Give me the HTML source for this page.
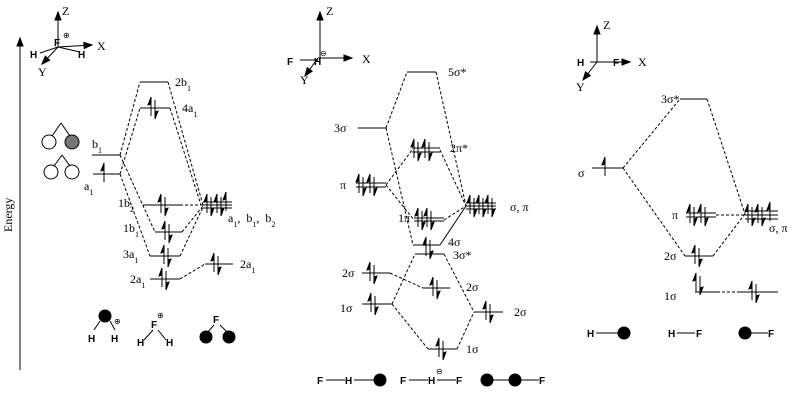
<!DOCTYPE html>
<html><head><meta charset="utf-8"><style>
body{margin:0;background:#fff}
svg{display:block;font-family:"Liberation Serif",serif}
.s{font-family:"Liberation Sans",sans-serif;font-weight:bold;font-size:10px}
</style></head><body>
<svg id="g" width="800" height="400" viewBox="0 0 800 400" xmlns="http://www.w3.org/2000/svg">
<g id="lines" stroke="#000" fill="none" stroke-width="1"></g>
<g id="txt" font-size="12" fill="#000"></g>
</svg>
<script>
const NS="http://www.w3.org/2000/svg";
const L=document.getElementById('lines'),T=document.getElementById('txt');
function el(p,tag,a){const e=document.createElementNS(NS,tag);for(const k in a)e.setAttribute(k,a[k]);p.appendChild(e);return e;}
function ln(x1,y1,x2,y2,w){el(L,'line',{x1,y1,x2,y2,'stroke-width':w||1});}
function dl(x1,y1,x2,y2){el(L,'line',{x1,y1,x2,y2,'stroke-dasharray':'3,2'});}
function lv(x1,x2,y){ln(x1,y,x2,y);}
function up(x,y){ln(x,y-10,x,y+8);el(L,'path',{d:`M${x} ${y-11}L${x-3} ${y-3}L${x} ${y-4}Z`,fill:'#000'});}
function dn(x,y){ln(x,y-8,x,y+10);el(L,'path',{d:`M${x} ${y+11}L${x+3} ${y+3}L${x} ${y+4}Z`,fill:'#000'});}
function pr(x,y){up(x,y);dn(x+4,y);}
function tx(x,y,s,c,fs){const e=el(T,'text',{x,y});if(c)e.setAttribute('class',c);if(fs)e.setAttribute('font-size',fs);e.innerHTML=s;return e;}
function arr(x1,y1,x2,y2){ln(x1,y1,x2,y2);const a=Math.atan2(y2-y1,x2-x1),l=8,w=3;
 const p1=[x2-l*Math.cos(a)+w*Math.sin(a),y2-l*Math.sin(a)-w*Math.cos(a)],p2=[x2-l*Math.cos(a)-w*Math.sin(a),y2-l*Math.sin(a)+w*Math.cos(a)];
 el(L,'path',{d:`M${x2} ${y2}L${p1}L${p2}Z`,fill:'#000'});}
function dot(x,y,r){el(L,'circle',{cx:x,cy:y,r:r||6,fill:'#000'});}
const sub=s=>`<tspan baseline-shift="sub" font-size="8">${s}</tspan>`;

// ===== Energy axis
arr(20,370,20,38);
const e=tx(12,232,'Energy');e.setAttribute('transform','rotate(-90 12 232)');

// ===== Left panel
arr(58,47,58,12);arr(58,47,92,45);arr(58,47,42,64);ln(40,53,58,47);ln(58,47,80,52);
tx(62,15,'Z');tx(97,50,'X');tx(38,76,'Y');tx(30,58,'H','s');tx(78,58,'H','s');tx(54,46,'F','s');tx(63,38,'⊕',null,8);
// orbital pictures
el(L,'circle',{cx:49,cy:142,r:7});el(L,'circle',{cx:72,cy:142,r:7,fill:'#777'});ln(52,136,61,123);ln(61,123,70,136);
el(L,'circle',{cx:51,cy:172,r:7});el(L,'circle',{cx:72,cy:172,r:7});ln(54,166,62,155);ln(62,155,70,166);
lv(92,120,155);tx(92,148,'b'+sub('1'));
lv(93,120,174);up(104,174);tx(84,190,'a'+sub('1'));
lv(140,168,82);tx(175,86,'2b'+sub('1'));
lv(140,170,108);pr(151,108);tx(182,112,'4a'+sub('1'));
lv(143,180,205);pr(161,205);tx(118,207,'1b'+sub('2'));
lv(155,182,232);pr(165,232);tx(123,232,'1b'+sub('1'));
lv(150,180,256);pr(164,256);tx(123,258,'3a'+sub('1'));
lv(150,180,279);pr(162,279);tx(130,283,'2a'+sub('1'));
lv(203,232,202);lv(203,232,205);lv(203,232,208);pr(207,205);pr(217,205);up(226,203);
tx(228,222,'a'+sub('1')+',&#160; b'+sub('1')+',&#160; b'+sub('2'));
lv(205,233,264);pr(214,264);tx(240,268,'2a'+sub('1'));
dl(120,155,140,82);dl(168,82,203,205);dl(120,174,140,108);dl(170,108,201,205);
dl(120,155,155,232);dl(120,174,150,256);
dl(180,205,203,205);dl(182,232,203,206);dl(180,256,203,207);dl(180,279,205,264);
// bottom molecules
dot(105,316,6);ln(100,321,94,330);ln(110,321,115,330);tx(88,342,'H','s');tx(111,342,'H','s');tx(114,324,'⊕',null,8);
tx(151,328,'F','s');tx(157,318,'⊕',null,8);ln(153,330,144,340);ln(158,330,166,340);tx(137,346,'H','s');tx(166,346,'H','s');
tx(213,323,'F','s');ln(214,325,206,334);ln(220,325,229,334);dot(206,337,6);dot(229,337,6);

// ===== Middle panel
arr(320,58,320,12);arr(318,58,352,58);arr(318,58,305,76);ln(300,60,318,60);
tx(326,15,'Z');tx(362,63,'X');tx(300,84,'Y');tx(287,65,'F','s');tx(314,65,'H','s');tx(320,56,'⊖',null,8);
lv(407,436,72);tx(448,76,'5σ*');
lv(358,386,128);tx(334,132,'3σ');
lv(412,440,148);lv(412,440,152);pr(414,150);pr(425,150);tx(450,152,'2π*');
lv(356,386,183);lv(356,386,187);pr(359,185);pr(370,185);tx(340,189,'π');
lv(466,496,203);lv(466,496,206);lv(466,496,209);pr(470,206);pr(479,206);pr(488,206);tx(510,211,'σ, π');
lv(414,444,218);lv(414,444,221);pr(418,219);pr(427,219);tx(398,222,'1π');
lv(413,440,245);lv(415,444,254);pr(426,248);tx(448,246,'4σ');tx(453,259,'3σ*');
lv(362,390,273);pr(370,273);tx(342,277,'2σ');
lv(423,450,288);pr(433,288);tx(466,291,'2σ');
lv(362,392,304);pr(371,304);tx(340,312,'1σ');
lv(474,503,312);pr(486,312);tx(514,316,'2σ');
lv(428,457,349);pr(439,349);tx(466,353,'1σ');
dl(386,128,407,72);dl(436,72,466,206);dl(386,128,413,245);
dl(386,185,412,150);dl(386,185,414,220);dl(440,150,466,206);dl(444,220,466,206);ln(440,245,466,206);
dl(390,273,423,288);dl(392,304,415,254);dl(392,304,428,349);dl(444,254,474,312);dl(457,349,474,312);
tx(317,384,'F','s');ln(326,380,345,380);tx(345,384,'H','s');ln(354,380,374,380);dot(380,380,6);
tx(400,384,'F','s');ln(409,380,428,380);tx(428,384,'H','s');tx(436,374,'⊖',null,8);ln(437,380,456,380);tx(456,384,'F','s');
dot(487,380,6);ln(487,380,515,380);dot(515,380,6);ln(515,380,539,380);tx(539,384,'F','s');

// ===== Right panel
arr(597,62,597,26);arr(590,62,630,62);arr(597,62,583,80);
tx(603,29,'Z');tx(638,66,'X');tx(576,91,'Y');tx(577,66,'H','s');tx(613,66,'F','s');
lv(680,707,99);tx(661,103,'3σ*');
lv(592,623,168);up(605,168);tx(578,177,'σ');
lv(686,716,213);lv(686,716,217);pr(690,215);pr(701,215);tx(672,219,'π');
lv(745,778,211);lv(745,778,215);lv(745,778,219);pr(748,215);pr(758,215);up(770,213);tx(769,232,'σ, π');
lv(685,713,256);pr(695,256);tx(664,260,'2σ');
lv(695,717,292);pr(696,284);tx(664,300,'1σ');
lv(740,778,292);pr(752,292);dl(717,292,740,292);
dl(623,168,680,99);dl(707,99,745,214);dl(623,168,685,256);dl(713,256,745,214);dl(716,215,745,215);
tx(587,337,'H','s');ln(596,333,618,333);dot(624,333,6);
tx(668,337,'H','s');ln(677,333,695,333);tx(696,337,'F','s');
dot(745,333,6);ln(745,333,768,333);tx(768,337,'F','s');
</script>
</body></html>
